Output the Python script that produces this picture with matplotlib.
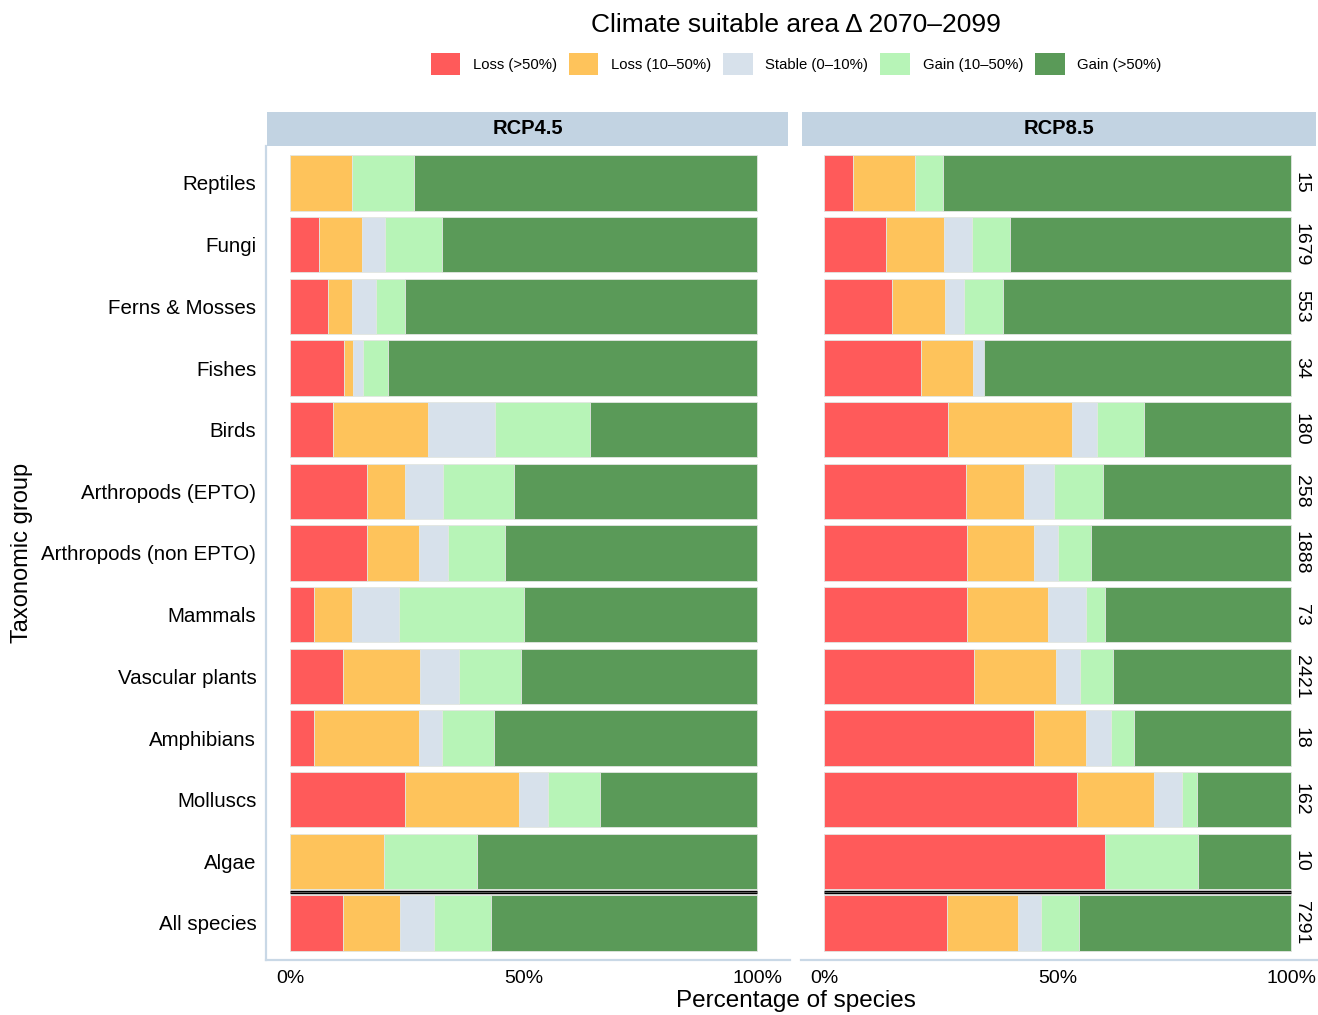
import numpy as np
import matplotlib
matplotlib.use('Agg')
import matplotlib.pyplot as plt
from matplotlib.patches import Patch

plt.rcParams['font.family'] = ['Liberation Sans', 'DejaVu Sans']

groups = ['Reptiles', 'Fungi', 'Ferns & Mosses', 'Fishes', 'Birds',
          'Arthropods (EPTO)', 'Arthropods (non EPTO)', 'Mammals',
          'Vascular plants', 'Amphibians', 'Molluscs', 'Algae', 'All species']
n_species = [15, 1679, 553, 34, 180, 258, 1888, 73, 2421, 18, 162, 10, 7291]

classes = ['Loss (>50%)', 'Loss (10\u201350%)', 'Stable (0\u201310%)',
           'Gain (10\u201350%)', 'Gain (>50%)']
colors = ['#ff5a5a', '#fec35b', '#d7e1eb', '#b7f4b7', '#5a9a58']

# percentage of species per class, RCP4.5
rcp45_loss_hi = [0.0, 6.2, 8.2, 11.5, 9.2, 16.4, 16.4, 5.1, 11.4, 5.1, 24.5, 0.0, 11.3]
rcp45_loss_lo = [13.3, 9.1, 5.1, 2.0, 20.3, 8.1, 11.2, 8.1, 16.4, 22.4, 24.5, 20.0, 12.2]
rcp45_stable = [0.0, 5.1, 5.1, 2.2, 14.3, 8.2, 6.2, 10.2, 8.4, 5.1, 6.2, 0.0, 7.2]
rcp45_gain_lo = [13.3, 12.2, 6.2, 5.2, 20.4, 15.2, 12.2, 26.6, 13.3, 11.1, 11.2, 20.0, 12.2]
rcp45_gain_hi = [73.4, 67.4, 75.4, 79.1, 35.8, 52.1, 54.0, 50.0, 50.5, 56.3, 33.6, 60.0, 57.1]

# percentage of species per class, RCP8.5
rcp85_loss_hi = [6.1, 13.3, 14.5, 20.6, 26.5, 30.3, 30.6, 30.6, 32.0, 44.9, 54.1, 60.0, 26.2]
rcp85_loss_lo = [13.3, 12.3, 11.3, 11.3, 26.5, 12.5, 14.3, 17.3, 17.5, 11.2, 16.4, 0.0, 15.2]
rcp85_stable = [0.0, 6.1, 4.2, 2.2, 5.3, 6.3, 5.1, 8.2, 5.2, 5.2, 6.1, 0.0, 5.0]
rcp85_gain_lo = [6.1, 8.1, 8.2, 0.0, 10.2, 10.5, 7.2, 4.0, 7.1, 5.1, 3.1, 20.0, 8.1]
rcp85_gain_hi = [74.5, 60.2, 61.8, 65.9, 31.5, 40.4, 42.8, 39.9, 38.2, 33.6, 20.3, 20.0, 45.5]

panels = {
    'RCP4.5': [rcp45_loss_hi, rcp45_loss_lo, rcp45_stable, rcp45_gain_lo, rcp45_gain_hi],
    'RCP8.5': [rcp85_loss_hi, rcp85_loss_lo, rcp85_stable, rcp85_gain_lo, rcp85_gain_hi],
}

W, H = 1318, 1015
fig = plt.figure(figsize=(W / 100, H / 100), dpi=100)


def frac(x0, y0, x1, y1):
    # pixel box (top-left origin) -> figure fraction rect
    return [x0 / W, 1 - y1 / H, (x1 - x0) / W, (y1 - y0) / H]


axis_col = '#c9d8e6'
strip_col = '#c2d3e2'
ypos = np.arange(len(groups))

layout = [('RCP4.5', (266, 790), (-5.16, 107.0), True),
          ('RCP8.5', (801, 1318), (-4.99, 105.7), False)]

for name, (px0, px1), xlim, first in layout:
    ax = fig.add_axes(frac(px0, 146, px1, 960))
    left = np.zeros(len(groups))
    for vals, col in zip(panels[name], colors):
        vals = np.array(vals)
        ax.barh(ypos, vals, left=left, height=0.9, color=col,
                edgecolor='#e2e6e2', linewidth=0.6)
        left += vals
    # separator above the overall row
    ax.plot([0, 100], [11.5, 11.5], color='black', lw=2.5, solid_capstyle='butt')
    ax.plot([0, 100], [11.5, 11.5], color='#9a9a9a', lw=0.4, solid_capstyle='butt')

    ax.set_xlim(*xlim)
    ax.set_ylim(len(groups) - 0.4, -0.6)
    ax.set_xticks([0, 50, 100])
    ax.set_xticklabels(['0%', '50%', '100%'], fontsize=14)
    ax.tick_params(axis='x', length=0, pad=7, colors='black')
    for s in ['top', 'right']:
        ax.spines[s].set_visible(False)
    ax.spines['bottom'].set_color(axis_col)
    ax.spines['bottom'].set_linewidth(1.6)
    if first:
        ax.set_yticks(ypos)
        ax.set_yticklabels(groups, fontsize=14.8)
        ax.tick_params(axis='y', length=0, pad=7)
        ax.spines['left'].set_color(axis_col)
        ax.spines['left'].set_linewidth(1.6)
    else:
        ax.set_yticks([])
        ax.spines['left'].set_visible(False)
        for y, n in zip(ypos, n_species):
            ax.text(100.3, y, str(n), rotation=-90, ha='left', va='center',
                    fontsize=14)

    # facet strip
    sax = fig.add_axes(frac(px0 + 1, 112, px1 - 2, 146))
    sax.set_facecolor(strip_col)
    sax.set_xticks([])
    sax.set_yticks([])
    for s in sax.spines.values():
        s.set_visible(False)
    sax.text(0.5, 0.5, name, ha='center', va='center', fontsize=14.5,
             fontweight='bold', transform=sax.transAxes)

cx = 796 / W
fig.text(cx, 1 - 25 / H, 'Climate suitable area \u0394 2070\u20132099',
         ha='center', va='center', fontsize=19)
handles = [Patch(facecolor=c, edgecolor='none') for c in colors]
fig.legend(handles, classes, loc='center', bbox_to_anchor=(cx, 1 - 64 / H),
           ncol=5, frameon=False, fontsize=10.7, handlelength=2.0,
           handleheight=2.0, handletextpad=0.85, columnspacing=0.8,
           borderpad=0)
fig.text(cx, 1 - 1001 / H, 'Percentage of species', ha='center',
         va='center', fontsize=17.5)
fig.text(22 / W, 1 - 553 / H, 'Taxonomic group', ha='center', va='center',
         rotation=90, fontsize=17)

fig.savefig('out.png', dpi=100)
